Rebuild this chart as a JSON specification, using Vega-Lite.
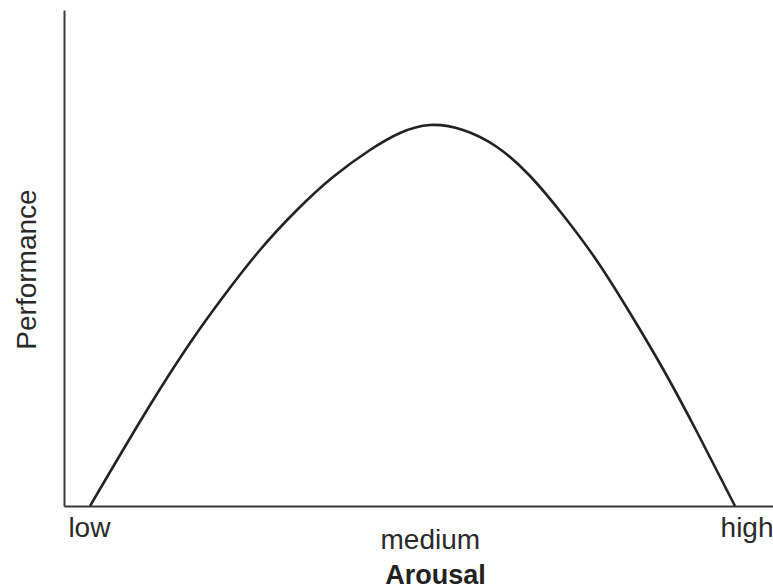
{
  "$schema": "https://vega.github.io/schema/vega-lite/v6.json",
  "width": 709,
  "height": 496,
  "autosize": {"type": "none"},
  "padding": {"left": 64, "top": 10, "right": 0, "bottom": 80},
  "background": "white",
  "config": {
    "view": {"stroke": null},
    "font": "Liberation Sans"
  },
  "data": {
    "values": [
      {"arousal": 3.67, "performance": 0},
      {"arousal": 11.71, "performance": 19.35},
      {"arousal": 17.77, "performance": 32.86},
      {"arousal": 22.43, "performance": 42.14},
      {"arousal": 27.64, "performance": 51.61},
      {"arousal": 32.86, "performance": 59.68},
      {"arousal": 37.94, "performance": 66.33},
      {"arousal": 43.16, "performance": 71.77},
      {"arousal": 47.39, "performance": 75.2},
      {"arousal": 51.62, "performance": 76.81},
      {"arousal": 56.28, "performance": 75.81},
      {"arousal": 61.07, "performance": 72.38},
      {"arousal": 65.73, "performance": 66.53},
      {"arousal": 70.38, "performance": 58.67},
      {"arousal": 75.18, "performance": 49.4},
      {"arousal": 79.83, "performance": 38.91},
      {"arousal": 84.49, "performance": 27.62},
      {"arousal": 89.28, "performance": 14.92},
      {"arousal": 94.64, "performance": 0}
    ]
  },
  "mark": {"type": "line", "interpolate": "natural", "stroke": "#222222", "strokeWidth": 2.6, "clip": false},
  "encoding": {
    "x": {
      "field": "arousal",
      "type": "quantitative",
      "scale": {"domain": [0, 100], "nice": false, "zero": false},
      "axis": {
        "title": "Arousal",
        "titleFontSize": 27,
        "titleFontWeight": "bold",
        "titleColor": "#222222",
        "titleBaseline": "alphabetic",
        "titleY": 77,
        "titleX": 371,
        "titleAnchor": "middle",
        "titleAlign": "center",
        "values": [0.55, 51.6, 100],
        "labelExpr": "datum.value < 10 ? 'low' : (datum.value > 90 ? 'high' : 'medium')",
        "labelFontSize": 28,
        "labelColor": "#2a2a2a",
        "labelBaseline": "alphabetic",
        "labelAlign": {"condition": [{"test": "datum.value < 10", "value": "left"}, {"test": "datum.value > 90", "value": "right"}], "value": "center"},
        "labelPadding": {"condition": {"test": "datum.value > 10 && datum.value < 90", "value": 42}, "value": 30},
        "labelOverlap": false,
        "labelBound": false,
        "labelFlush": false,
        "ticks": false,
        "tickSize": 0,
        "grid": false,
        "domainColor": "#3a3a3a",
        "domainWidth": 2
      }
    },
    "y": {
      "field": "performance",
      "type": "quantitative",
      "scale": {"domain": [0, 100], "nice": false},
      "axis": {
        "title": "Performance",
        "titleFontSize": 28,
        "titleFontWeight": "normal",
        "titleColor": "#2a2a2a",
        "titleAngle": -90,
        "titleBaseline": "alphabetic",
        "titleAlign": "center",
        "titleX": -29,
        "titleY": 259,
        "labels": false,
        "ticks": false,
        "tickSize": 0,
        "grid": false,
        "domainColor": "#3a3a3a",
        "domainWidth": 2
      }
    }
  }
}
